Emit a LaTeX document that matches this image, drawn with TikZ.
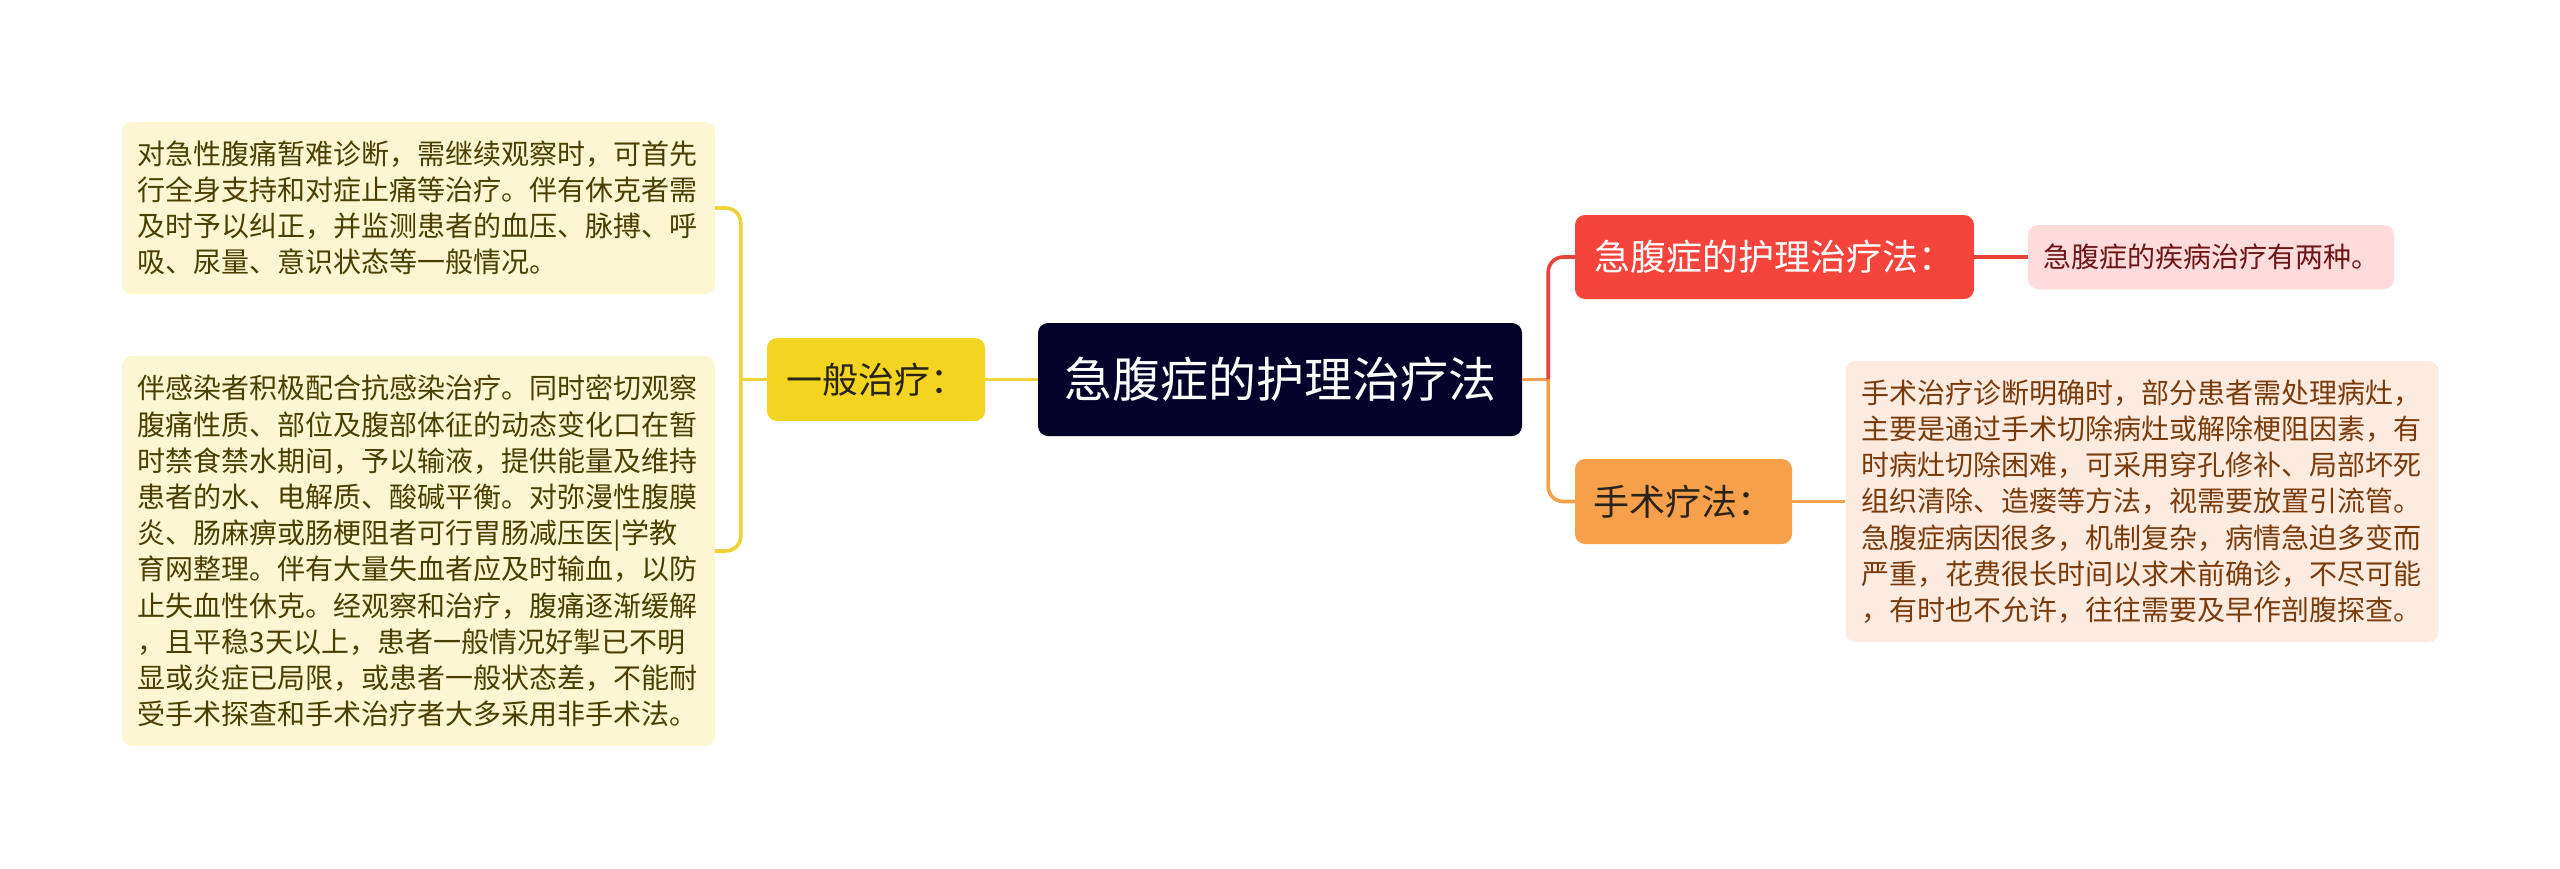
\documentclass[tikz,border=0pt]{standalone}
\usepackage{fontspec}
\setmainfont{Noto Sans CJK SC}
\definecolor{rootbg}{HTML}{02022A}
\definecolor{genbg}{HTML}{F2D421}
\definecolor{genline}{HTML}{EFD236}
\definecolor{yleafbg}{HTML}{FDF6D2}
\definecolor{yleaftext}{HTML}{4A3F00}
\definecolor{curebg}{HTML}{F5443C}
\definecolor{cureline}{HTML}{E8423A}
\definecolor{kindsbg}{HTML}{FDDCDB}
\definecolor{kindstext}{HTML}{6E1515}
\definecolor{surgbg}{HTML}{F6A04C}
\definecolor{surgline}{HTML}{F2A04E}
\definecolor{oleafbg}{HTML}{FDEBDF}
\definecolor{oleaftext}{HTML}{7A3B0C}
\definecolor{topictext}{HTML}{2A2418}
\begin{document}
\begin{tikzpicture}[x=1pt, y=-1pt,
    box/.style={rounded corners=10pt, inner sep=0pt},
    leaf/.style={box, align=left, text width=562pt, minimum width=593pt,
      font=\fontsize{28}{36.2}\selectfont},
    topic/.style={box, align=center, font=\fontsize{36}{44}\selectfont},
    link/.style={line width=3.6pt}]
  \useasboundingbox (0,0) rectangle (2560,868);
  \node[box, fill=rootbg, text=white, minimum width=484pt, minimum height=113pt,
    font=\fontsize{48}{56}\selectfont] (root) at (1280,379.5) {急腹症的护理治疗法};
  \node[topic, fill=genbg, text=topictext, minimum width=218pt, minimum height=83pt]
    (gen) at (876,379.5) {一般治疗：};
  \node[leaf, fill=yleafbg, text=yleaftext, minimum height=172pt] (leafa) at (418.5,208)
    {对急性腹痛暂难诊断，需继续观察时，可首先\\
     行全身支持和对症止痛等治疗。伴有休克者需\\
     及时予以纠正，并监测患者的血压、脉搏、呼\\
     吸、尿量、意识状态等一般情况。};
  \node[leaf, fill=yleafbg, text=yleaftext, minimum height=390pt] (leafb) at (418.5,551)
    {伴感染者积极配合抗感染治疗。同时密切观察\\
     腹痛性质、部位及腹部体征的动态变化口在暂\\
     时禁食禁水期间，予以输液，提供能量及维持\\
     患者的水、电解质、酸碱平衡。对弥漫性腹膜\\
     炎、肠麻痹或肠梗阻者可行胃肠减压医|学教\\
     育网整理。伴有大量失血者应及时输血，以防\\
     止失血性休克。经观察和治疗，腹痛逐渐缓解\\
     ，且平稳3天以上，患者一般情况好掣已不明\\
     显或炎症已局限，或患者一般状态差，不能耐\\
     受手术探查和手术治疗者大多采用非手术法。};
  \node[topic, fill=curebg, text=white, minimum width=399pt, minimum height=84pt]
    (cure) at (1774.5,257) {急腹症的护理治疗法：};
  \node[box, fill=kindsbg, text=kindstext, minimum width=366pt, minimum height=64pt,
    font=\fontsize{28}{36}\selectfont] (kinds) at (2211,257) {急腹症的疾病治疗有两种。};
  \node[topic, fill=surgbg, text=topictext, minimum width=217pt, minimum height=85pt]
    (surg) at (1683.5,501.5) {手术疗法：};
  \node[leaf, fill=oleafbg, text=oleaftext, minimum height=281pt] (surgleaf) at (2142,501.5)
    {手术治疗诊断明确时，部分患者需处理病灶，\\
     主要是通过手术切除病灶或解除梗阻因素，有\\
     时病灶切除困难，可采用穿孔修补、局部坏死\\
     组织清除、造瘘等方法，视需要放置引流管。\\
     急腹症病因很多，机制复杂，病情急迫多变而\\
     严重，花费很长时间以求术前确诊，不尽可能\\
     ，有时也不允许，往往需要及早作剖腹探查。};
  \coordinate (gj) at ([xshift=-26pt]gen.west);
  \coordinate (rj) at ([xshift=26pt]root.east);
  \draw[link, genline] (root.west) -- (gen.east);
  \draw[link, genline] (gen.west) -- (gj);
  \draw[link, genline, rounded corners=15pt] (leafa.east) -| (gj) |- (leafb.east);
  \draw[link, surgline] (root.east) -- (rj);
  \draw[link, cureline, rounded corners=15pt] (rj) |- (cure.west);
  \draw[link, surgline, rounded corners=15pt] (rj) |- (surg.west);
  \draw[link, cureline] (cure.east) -- (kinds.west);
  \draw[link, surgline] (surg.east) -- (surgleaf.west);
\end{tikzpicture}
\end{document}
